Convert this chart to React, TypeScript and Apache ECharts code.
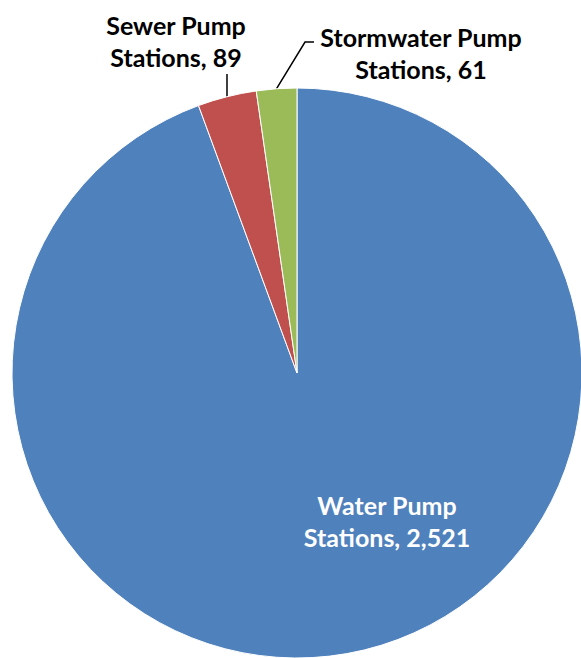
import React, { useEffect, useRef } from "react";
import * as echarts from "echarts";

// Pump station counts by type
const categories = ["Water Pump\nStations", "Sewer Pump\nStations", "Stormwater Pump\nStations"];
const counts = [2521, 89, 61];
const colors = ["#4F81BD", "#C0504D", "#9BBB59"];

export default function App() {
  const ref = useRef<HTMLDivElement>(null);

  useEffect(() => {
    document.body.style.margin = "0";
    const chart = echarts.init(ref.current!, null, { renderer: "svg" });

    const data = categories.map((name, i) => ({
      name,
      value: counts[i],
      itemStyle: { color: colors[i] },
      label: { color: i === 0 ? "#ffffff" : "#000000" },
    }));

    chart.setOption({
      animation: false,
      series: [
        {
          type: "pie",
          center: [297, 373],
          radius: [0, 285],
          startAngle: 90,
          clockwise: true,
          data,
          itemStyle: { borderColor: "#ffffff", borderWidth: 1 },
          label: {
            show: true,
            position: "outside",
            overflow: "none",
            fontFamily: "Lato",
            fontWeight: "bold",
            fontSize: 25,
            lineHeight: 32,
            align: "center",
            formatter: (p: any) => `${p.name}, ${p.value.toLocaleString("en-US")}`,
          },
          labelLine: {
            show: true,
            lineStyle: { color: "#000000", width: 1.5 },
          },
          labelLayout: (p: any) => {
            const start = p.labelLinePoints ? p.labelLinePoints[0] : [0, 0];
            if (p.dataIndex === 0) {
              return {
                x: 387,
                y: 521,
                align: "center",
                verticalAlign: "middle",
                labelLinePoints: [[387, 521], [387, 521]],
              };
            }
            if (p.dataIndex === 1) {
              return {
                x: 176,
                y: 41,
                width: 200,
                align: "center",
                verticalAlign: "middle",
                labelLinePoints: [start, [start[0], 74], [start[0], 74]],
              };
            }
            return {
              x: 421,
              y: 53,
              width: 260,
              align: "center",
              verticalAlign: "middle",
              labelLinePoints: [start, [305, 42], [314, 42]],
            };
          },
        },
      ],
    });

    return () => chart.dispose();
  }, []);

  return <div ref={ref} style={{ width: 581, height: 658 }} />;
}
